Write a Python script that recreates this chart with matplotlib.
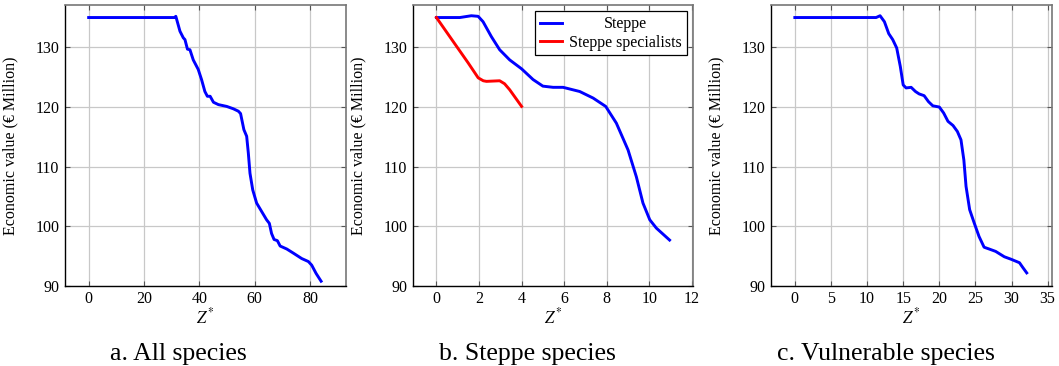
import matplotlib
matplotlib.use('Agg')
import matplotlib.pyplot as plt

plt.rcParams['font.family'] = ['Liberation Serif', 'DejaVu Serif']
plt.rcParams['mathtext.fontset'] = 'stix'

# ---------- data ----------
# a. all species
all_z = [0, 10, 20, 30, 31, 31.5, 33, 34.2, 34.8, 35.7, 36.6, 37.8, 39.6, 40.8, 42.0,
         42.9, 43.9, 45.1, 46.9, 49.9, 52.3, 54.1, 54.9, 56.1, 57.1, 57.7, 58.3, 59.3,
         60.7, 62.5, 64.3, 65.3, 66.1, 67.0, 68.2, 69.2, 71.6, 74.0, 77.0, 79.4, 80.6,
         82.2, 84.0]
all_val = [135, 135, 135, 135, 135, 135.2, 132.7, 131.6, 131.3, 129.7, 129.6, 127.9,
           126.3, 124.6, 122.6, 121.8, 121.8, 120.8, 120.4, 120.1, 119.7, 119.3, 118.9,
           116.2, 115.1, 112.3, 108.9, 106.1, 103.9, 102.5, 101.1, 100.5, 98.8, 97.8,
           97.6, 96.7, 96.2, 95.5, 94.6, 94.1, 93.5, 92.1, 90.8]

# b. steppe species
steppe_z = [0, 1.1, 1.64, 1.96, 2.19, 2.58, 2.97, 3.44, 4.0, 4.54, 5.0, 5.48, 5.95,
            6.73, 7.36, 7.95, 8.45, 9.0, 9.39, 9.7, 10.02, 10.33, 10.95]
steppe_val = [135, 135, 135.3, 135.2, 134.3, 131.8, 129.6, 127.9, 126.4, 124.6, 123.5,
              123.3, 123.3, 122.6, 121.5, 120.1, 117.3, 112.8, 108.3, 103.9, 101.1,
              99.7, 97.7]
spec_z = [0, 0.94, 1.49, 1.96, 2.2, 2.35, 2.97, 3.2, 3.44, 4.0]
spec_val = [135, 130.2, 127.4, 124.9, 124.4, 124.3, 124.4, 123.9, 122.9, 120.1]

# c. vulnerable species
vul_z = [0, 5, 11.25, 11.8, 12.4, 13.0, 13.55, 14.1, 14.6, 15.0, 15.4, 16.1, 16.7, 17.2,
         17.9, 18.5, 19.1, 20.0, 20.6, 21.2, 21.9, 22.5, 23.0, 23.4, 23.7, 24.2, 24.85,
         25.5, 26.2, 26.9, 27.8, 29.0, 29.9, 31.1, 31.5, 32.1]
vul_val = [135, 135, 135, 135.3, 134.3, 132.3, 131.3, 129.9, 126.8, 123.7, 123.2, 123.3,
           122.6, 122.2, 121.9, 120.9, 120.2, 120.0, 119.0, 117.6, 116.9, 115.9, 114.5,
           111.1, 106.7, 102.8, 100.5, 98.3, 96.5, 96.2, 95.8, 94.9, 94.5, 93.9, 93.2,
           92.2]

Y_TICKS = [90, 100, 110, 120, 130]
YLABEL = 'Economic value (€ Million)'
FS = 11.5

W, H = 1059, 366
fig = plt.figure(figsize=(W / 100, H / 100), dpi=100)


def make_ax(left_px, width_px, xlim, xticks):
    ax = fig.add_axes([left_px / W, (H - 286) / H, width_px / W, 281 / H])
    ax.set_xlim(*xlim)
    ax.set_ylim(90, 137.1)
    ax.set_xticks(xticks)
    ax.set_yticks(Y_TICKS)
    ax.grid(True, color='#c8c8c8', linewidth=0.9)
    ax.set_axisbelow(True)
    for s in ('left', 'bottom'):
        ax.spines[s].set_color('black')
        ax.spines[s].set_linewidth(1.0)
    for s in ('top', 'right'):
        ax.spines[s].set_color('#777777')
        ax.spines[s].set_linewidth(1.2)
    ax.tick_params(direction='in', length=3.5, width=0.8, color='#555555',
                   top=True, right=True, labelsize=FS)
    ax.tick_params(axis='y', pad=4)
    ax.tick_params(axis='x', pad=3.5)
    ax.set_ylabel(YLABEL, fontsize=FS)
    ax.yaxis.set_label_coords(-0.167, 0.5)
    ax.set_xlabel(r'$Z^{*}$', fontsize=12)
    ax.xaxis.set_label_coords(0.5, -0.113)
    ax.xaxis.label.set_va('center')
    return ax


ax1 = make_ax(65, 281, (-8.55, 93.0), [0, 20, 40, 60, 80])
ax1.plot(all_z, all_val, color='#0000ff', linewidth=2.1)

ax2 = make_ax(413, 280, (-1.1, 12.05), [0, 2, 4, 6, 8, 10, 12])
ax2.plot(steppe_z, steppe_val, color='#0000ff', linewidth=2.1, label='Steppe')
ax2.plot(spec_z, spec_val, color='#ff0000', linewidth=2.1, label='Steppe specialists')
leg = ax2.legend(loc='upper right', fontsize=FS, frameon=True, fancybox=False,
                 edgecolor='black', framealpha=1, borderpad=0.3, handlelength=1.4,
                 handletextpad=0.45, labelspacing=0.15, borderaxespad=0.4)
leg.get_frame().set_linewidth(0.9)

ax3 = make_ax(771, 281, (-3.3, 35.6), [0, 5, 10, 15, 20, 25, 30, 35])
ax3.plot(vul_z, vul_val, color='#0000ff', linewidth=2.1)

# centre the legend entries within the text column
fig.canvas.draw()
r = fig.canvas.get_renderer()
texts = leg.get_texts()
widths = [t.get_window_extent(r).width for t in texts]
wmax = max(widths)
for t, w in zip(texts, widths):
    t.set_x((wmax - w) / 2)

# subfigure captions
for xc, cap in [(178, 'a. All species'), (527, 'b. Steppe species'),
                (886, 'c. Vulnerable species')]:
    fig.text(xc / W, (H - 360) / H, cap, ha='center', va='baseline', fontsize=18.5)

fig.savefig('out.png', dpi=100)
